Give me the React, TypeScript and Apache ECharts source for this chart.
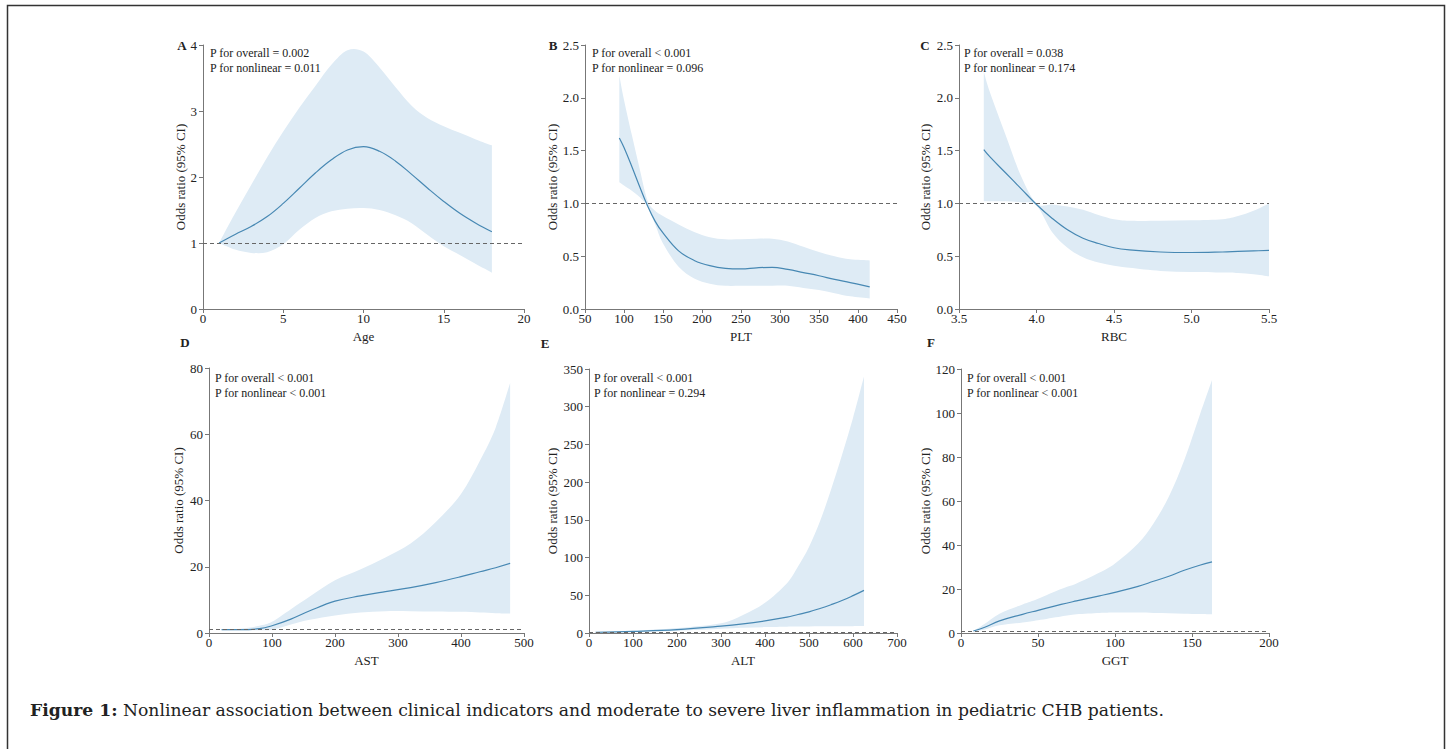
import React, { useEffect, useRef } from "react";
import * as echarts from "echarts";

// ---------- data ----------
// A: Age
const ageX = [1, 2, 3, 4, 5, 6, 7, 8, 9, 10, 11, 12, 13, 14, 15, 16, 17, 18];
const ageOR = [1.0, 1.13, 1.25, 1.4, 1.6, 1.83, 2.06, 2.26, 2.41, 2.46, 2.39, 2.24, 2.04, 1.83, 1.63, 1.45, 1.3, 1.17];
const ageLo = [1.0, 0.9, 0.85, 0.86, 0.98, 1.2, 1.38, 1.48, 1.52, 1.53, 1.5, 1.42, 1.3, 1.12, 0.95, 0.82, 0.68, 0.55];
const ageHi = [1.0, 1.45, 1.88, 2.3, 2.69, 3.05, 3.38, 3.7, 3.92, 3.9, 3.66, 3.36, 3.08, 2.89, 2.77, 2.67, 2.57, 2.48];

// B: PLT
const pltX = [94, 100, 110, 120, 130, 140, 150, 170, 190, 210, 230, 250, 270, 290, 310, 330, 350, 370, 390, 415];
const pltOR = [1.62, 1.53, 1.35, 1.16, 0.98, 0.83, 0.72, 0.55, 0.46, 0.41, 0.385, 0.38, 0.39, 0.395, 0.375, 0.345, 0.315, 0.28, 0.25, 0.21];
const pltLo = [1.2, 1.17, 1.12, 1.06, 0.97, 0.8, 0.62, 0.4, 0.29, 0.24, 0.22, 0.22, 0.22, 0.22, 0.22, 0.2, 0.18, 0.15, 0.12, 0.1];
const pltHi = [2.21, 1.98, 1.65, 1.33, 1.03, 0.93, 0.88, 0.8, 0.73, 0.68, 0.66, 0.66, 0.665, 0.665, 0.64, 0.59, 0.54, 0.5, 0.47, 0.46];

// C: RBC
const rbcX = [3.66, 3.7, 3.8, 3.9, 4.0, 4.1, 4.2, 4.3, 4.4, 4.5, 4.6, 4.8, 5.0, 5.2, 5.3, 5.4, 5.5];
const rbcOR = [1.51, 1.44, 1.29, 1.14, 0.99, 0.86, 0.75, 0.67, 0.62, 0.58, 0.56, 0.54, 0.535, 0.54, 0.545, 0.55, 0.555];
const rbcLo = [1.02, 1.02, 1.02, 1.01, 0.98, 0.73, 0.58, 0.49, 0.44, 0.41, 0.39, 0.36, 0.35, 0.345, 0.34, 0.33, 0.31];
const rbcHi = [2.25, 2.05, 1.65, 1.26, 1.0, 0.99, 0.97, 0.94, 0.89, 0.85, 0.835, 0.835, 0.84, 0.85, 0.88, 0.93, 1.0];

// D: AST
const astX = [20, 50, 80, 100, 130, 160, 200, 240, 280, 320, 360, 400, 430, 455, 478];
const astOR = [1.0, 1.0, 1.3, 2.2, 4.2, 6.7, 9.6, 11.2, 12.5, 13.7, 15.2, 17.0, 18.5, 19.7, 21.0];
const astLo = [0.8, 0.8, 0.85, 1.0, 2.6, 4.0, 5.3, 6.2, 6.6, 6.6, 6.5, 6.4, 6.2, 6.0, 5.9];
const astHi = [1.2, 1.3, 2.2, 3.4, 7.2, 11.0, 15.9, 19.2, 22.8, 27.0, 33.5, 42.0, 52.0, 62.0, 75.5];

// E: ALT
const altX = [15, 100, 200, 300, 350, 400, 450, 475, 500, 525, 550, 575, 600, 625];
const altOR = [1.0, 2.2, 4.5, 9.0, 12.0, 16.0, 21.0, 24.5, 28.0, 32.5, 37.5, 43.0, 49.5, 56.5];
const altLo = [1.0, 1.5, 2.8, 5.5, 6.8, 7.8, 8.3, 8.5, 8.7, 8.8, 8.9, 9.0, 9.1, 9.2];
const altHi = [1.0, 2.8, 6.5, 13.0, 24.0, 40.0, 66.0, 88.0, 114.0, 148.0, 190.0, 236.0, 285.0, 340.0];

// F: GGT
const ggtX = [8, 15, 25, 40, 50, 65, 75, 90, 100, 115, 125, 135, 145, 155, 163];
const ggtOR = [0.9, 2.5, 5.5, 8.5, 10.3, 13.0, 14.6, 16.9, 18.5, 21.2, 23.5, 25.8, 28.5, 30.8, 32.3];
const ggtLo = [0.9, 1.5, 3.5, 4.8, 5.8, 7.5, 8.5, 9.1, 9.3, 9.3, 9.1, 9.0, 8.8, 8.6, 8.5];
const ggtHi = [0.9, 4.0, 8.8, 13.0, 15.6, 20.0, 22.5, 27.5, 31.6, 40.7, 49.8, 62.0, 78.6, 99.0, 115.0];

const xNames = ["Age", "PLT", "RBC", "AST", "ALT", "GGT"];
const letters = ["A", "B", "C", "D", "E", "F"];
const pOverall = ["P for overall = 0.002", "P for overall < 0.001", "P for overall = 0.038", "P for overall < 0.001", "P for overall < 0.001", "P for overall < 0.001"];
const pNonlinear = ["P for nonlinear = 0.011", "P for nonlinear = 0.096", "P for nonlinear = 0.174", "P for nonlinear < 0.001", "P for nonlinear = 0.294", "P for nonlinear < 0.001"];
// axis ranges: [min, max, interval, decimals]
const xRanges = [[0, 20, 5, 0], [50, 450, 50, 0], [3.5, 5.5, 0.5, 1], [0, 500, 100, 0], [0, 700, 100, 0], [0, 200, 50, 0]];
const yRanges = [[0, 4, 1, 0], [0, 2.5, 0.5, 1], [0, 2.5, 0.5, 1], [0, 80, 20, 0], [0, 350, 50, 0], [0, 120, 20, 0]];
const caption = "Nonlinear association between clinical indicators and moderate to severe liver inflammation in pediatric CHB patients.";

const panels = [
  { x: ageX, or: ageOR, lo: ageLo, hi: ageHi },
  { x: pltX, or: pltOR, lo: pltLo, hi: pltHi },
  { x: rbcX, or: rbcOR, lo: rbcLo, hi: rbcHi },
  { x: astX, or: astOR, lo: astLo, hi: astHi },
  { x: altX, or: altOR, lo: altLo, hi: altHi },
  { x: ggtX, or: ggtOR, lo: ggtLo, hi: ggtHi },
];

// ---------- layout ----------
const grids = [
  { left: 203, top: 45, width: 321, height: 264 },
  { left: 585, top: 45, width: 312, height: 264 },
  { left: 959, top: 45, width: 310, height: 264 },
  { left: 209, top: 368, width: 315, height: 265 },
  { left: 589, top: 369, width: 308, height: 264 },
  { left: 961, top: 369, width: 308, height: 264 },
];
const yNameGaps = [12, 23, 24, 21, 27, 24];
const letterPos = [[182, 45], [553, 45], [925, 45], [185, 342], [545, 343], [931, 342]];
const pPos = [[210, 53], [592, 53], [964, 53], [215, 378], [594, 378], [967, 378]];

const FONT = "Liberation Serif, Times New Roman, serif";
const CAPFONT = "DejaVu Serif, serif";
const BAND = "#deebf5";
const LINE = "#4788b3";
const AXIS = "#777";
const TXT = "#222";

function catmull(p: number[][]): string {
  let d = "";
  for (let i = 0; i < p.length - 1; i++) {
    const p0 = p[i - 1] || p[i];
    const p1 = p[i];
    const p2 = p[i + 1];
    const p3 = p[i + 2] || p2;
    const c1x = p1[0] + (p2[0] - p0[0]) / 6;
    const c1y = p1[1] + (p2[1] - p0[1]) / 6;
    const c2x = p2[0] - (p3[0] - p1[0]) / 6;
    const c2y = p2[1] - (p3[1] - p1[1]) / 6;
    d += ` C${c1x},${c1y} ${c2x},${c2y} ${p2[0]},${p2[1]}`;
  }
  return d;
}

export default function App() {
  const ref = useRef<HTMLDivElement>(null);
  useEffect(() => {
    if (!ref.current) return;
    const chart = echarts.init(ref.current, null, { renderer: "svg" });
    const series: any[] = [];
    const xAxis: any[] = [];
    const yAxis: any[] = [];
    const graphic: any[] = [];

    panels.forEach((pn, i) => {
      const [xmin, xmax, xint, xdec] = xRanges[i];
      const [ymin, ymax, yint, ydec] = yRanges[i];
      xAxis.push({
        type: "value", gridIndex: i, min: xmin, max: xmax, interval: xint,
        name: xNames[i], nameLocation: "middle", nameGap: 21,
        nameTextStyle: { fontFamily: FONT, fontSize: 13, color: TXT },
        axisLine: { show: true, onZero: false, lineStyle: { color: AXIS, width: 1 } },
        axisTick: { show: true, length: 4, lineStyle: { color: AXIS } },
        axisLabel: { fontFamily: FONT, fontSize: 13, color: TXT, margin: 3, formatter: (v: number) => v.toFixed(xdec) },
        splitLine: { show: false },
      });
      yAxis.push({
        type: "value", gridIndex: i, min: ymin, max: ymax, interval: yint,
        name: "Odds ratio (95% CI)", nameLocation: "middle", nameGap: yNameGaps[i] + 3,
        nameTextStyle: { fontFamily: FONT, fontSize: 13, color: TXT },
        axisLine: { show: true, lineStyle: { color: AXIS, width: 1 } },
        axisTick: { show: true, length: 4, lineStyle: { color: AXIS } },
        axisLabel: { fontFamily: FONT, fontSize: 13, color: TXT, margin: 6, formatter: (v: number) => v.toFixed(ydec) },
        splitLine: { show: false },
      });
      series.push({
        type: "custom", xAxisIndex: i, yAxisIndex: i, silent: true, z: 1,
        data: [[pn.x[0], pn.lo[0]]],
        renderItem: (_params: any, api: any) => {
          const up = pn.x.map((x, k) => api.coord([x, pn.hi[k]]));
          const dn = pn.x.map((x, k) => api.coord([x, pn.lo[k]])).reverse();
          const d = `M${up[0][0]},${up[0][1]}` + catmull(up) + ` L${dn[0][0]},${dn[0][1]}` + catmull(dn) + " Z";
          return { type: "path", shape: { pathData: d }, style: { fill: BAND, stroke: null } };
        },
      });
      series.push({
        type: "line", xAxisIndex: i, yAxisIndex: i, z: 3, smooth: 0.4, symbol: "none",
        data: pn.x.map((x, k) => [x, pn.or[k]]),
        lineStyle: { color: LINE, width: 1.2 },
        markLine: {
          silent: true, symbol: ["none", "none"], label: { show: false },
          lineStyle: { type: [4, 3], color: "#666", width: 1 },
          data: [{ yAxis: 1 }],
        },
      });
      graphic.push({
        type: "text", x: letterPos[i][0], y: letterPos[i][1],
        style: { text: letters[i], fontFamily: FONT, fontSize: 13, fontWeight: "bold", fill: TXT, align: "center", verticalAlign: "middle" },
      });
      graphic.push({
        type: "text", x: pPos[i][0], y: pPos[i][1],
        style: { text: pOverall[i], fontFamily: FONT, fontSize: 12, fill: TXT, align: "left", verticalAlign: "middle" },
      });
      graphic.push({
        type: "text", x: pPos[i][0], y: pPos[i][1] + 15,
        style: { text: pNonlinear[i], fontFamily: FONT, fontSize: 12, fill: TXT, align: "left", verticalAlign: "middle" },
      });
    });

    graphic.push({
      type: "rect", shape: { x: 7.5, y: 5.5, width: 1437, height: 780 },
      style: { fill: "none", stroke: "#333", lineWidth: 1.5 }, silent: true,
    });
    graphic.push({
      type: "text", x: 30, y: 710,
      style: {
        text: "{b|Figure 1:} " + caption,
        rich: { b: { fontWeight: "bold", fontFamily: CAPFONT, fontSize: 17.2, fill: "#222" } },
        fontFamily: CAPFONT, fontSize: 17.2, fill: "#222", align: "left", verticalAlign: "middle",
      },
    });

    chart.setOption({
      animation: false,
      backgroundColor: "#fff",
      grid: grids.map((g) => ({ ...g, containLabel: false })),
      xAxis, yAxis, series, graphic,
    });
    return () => chart.dispose();
  }, []);
  return <div ref={ref} style={{ position: "absolute", left: 0, top: 0, width: 1453, height: 749 }} />;
}
